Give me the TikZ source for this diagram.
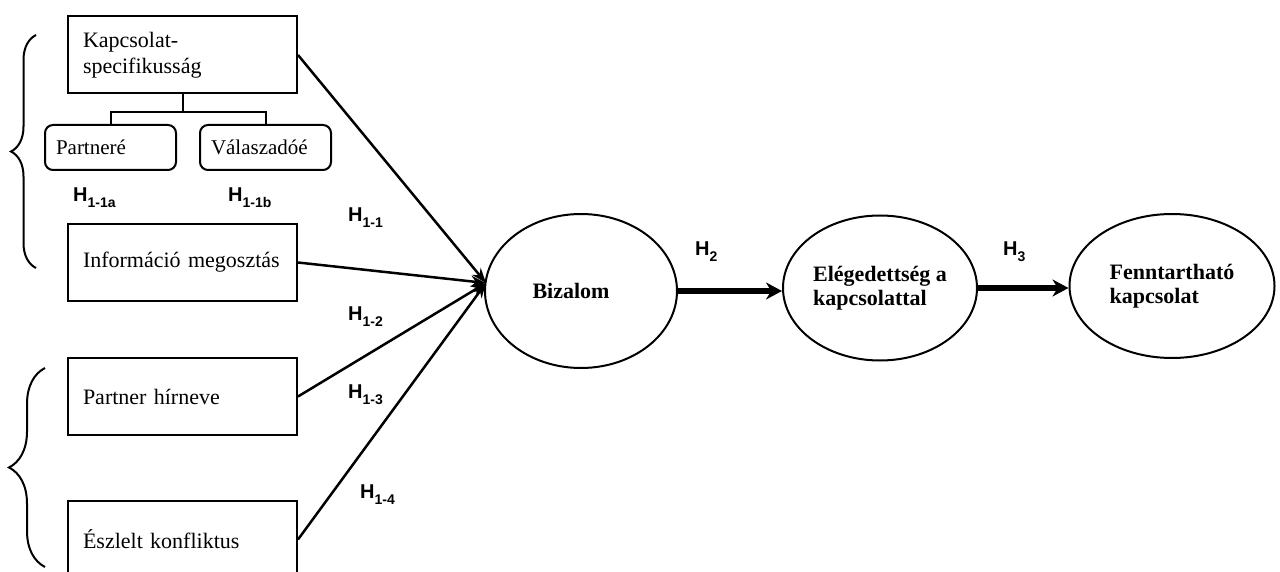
\documentclass[tikz,border=0pt]{standalone}
\usepackage{fontspec}
\setmainfont{Liberation Serif}
\newfontfamily\hfont{Liberation Sans}
\usepackage{tikz}
\usetikzlibrary{positioning, shapes.geometric, arrows.meta, decorations.pathreplacing}

\newcommand{\hlab}[1]{{\hfont\bfseries\fontsize{20}{20}\selectfont H\raisebox{-6pt}{\fontsize{14}{14}\selectfont #1}}}

\tikzset{
  box/.style={draw, line width=2pt, minimum width=229pt, minimum height=77pt, text width=199pt, inner xsep=15pt, align=left, font=\fontsize{22}{26}\selectfont},
  subbox/.style={draw, line width=2pt, rounded corners=8pt, minimum width=131pt, minimum height=45pt, text width=109pt, inner xsep=11pt, align=left, font=\fontsize{21}{26}\selectfont},
  oval/.style={draw, ellipse, line width=2pt, inner sep=0pt, align=left, font=\bfseries\fontsize{22}{24}\selectfont},
  hyp/.style={anchor=base west, inner sep=0pt},
  brace/.style={decorate, line width=2pt},
  link/.style={line width=2.5pt, -{Stealth[length=15pt, width=11pt]}},
  bigarrow/.style={line width=5.5pt, -{Stealth[length=16pt, width=17pt]}}
}

\begin{document}
\begin{tikzpicture}[x=1pt, y=-1pt]
    \useasboundingbox (0,0) rectangle (1280,572);
    % left column
    \node[box] (K) at (182.5,55) {Kapcsolat-\\specifikusság};
    \node[subbox] (P) at (110.5,147.5) {Partneré};
    \node[subbox] (V) at (265.5,147.5) {Válaszadóé};
    \node[box] (I) at (182.5,262.5) {Információ megosztás};
    \node[box] (R) at (182.5,396.5) {Partner hírneve};
    \node[box] (E) at (182.5,539.5) {Észlelt konfliktus};
    \draw[line width=2pt] (K.south) -- ++(0,18) -| (P.north);
    \draw[line width=2pt] (K.south) -- ++(0,18) -| (V.north);
    % braces
    \coordinate (U1) at (36,268);
    \coordinate (U2) at (36,35);
    \coordinate (L1) at (45,567);
    \coordinate (L2) at (45,368);
    \draw[brace, decoration={brace, amplitude=25pt}] (U1) -- (U2);
    \draw[brace, decoration={brace, amplitude=36pt}] (L1) -- (L2);
    % chain
    \node[oval, minimum width=192pt, minimum height=154pt] (B) at (581,291) {Bizalom\hspace*{20pt}};
    \node[oval, minimum width=194pt, minimum height=145pt] (S) at (880,288) {Elégedettség a\\kapcsolattal};
    \node[oval, minimum width=205pt, minimum height=144pt] (F) at (1172,286) {Fenntartható\\kapcsolat};
    \coordinate (C) at (486,283);
    \draw[link] (K.east) -- (C);
    \draw[link] (I.east) -- (C);
    \draw[link] (R.east) -- (C);
    \draw[link] (E.east) -- (C);
    \draw[bigarrow] (B.east) -- (B.east -| S.west);
    \draw[bigarrow] (S.east) -- (S.east -| F.west);
    % hypothesis labels
    \node[hyp] (H11a) at (73,202) {\hlab{1-1a}};
    \node[hyp] (H11b) at (228,202) {\hlab{1-1b}};
    \node[hyp] (H11) at (348,222) {\hlab{1-1}};
    \node[hyp] (H12) at (348,320) {\hlab{1-2}};
    \node[hyp] (H13) at (348,398) {\hlab{1-3}};
    \node[hyp] (H14) at (360,498) {\hlab{1-4}};
    \node[hyp] (H2) at (695,255) {\hlab{2}};
    \node[hyp] (H3) at (1003,255) {\hlab{3}};
\end{tikzpicture}
\end{document}
